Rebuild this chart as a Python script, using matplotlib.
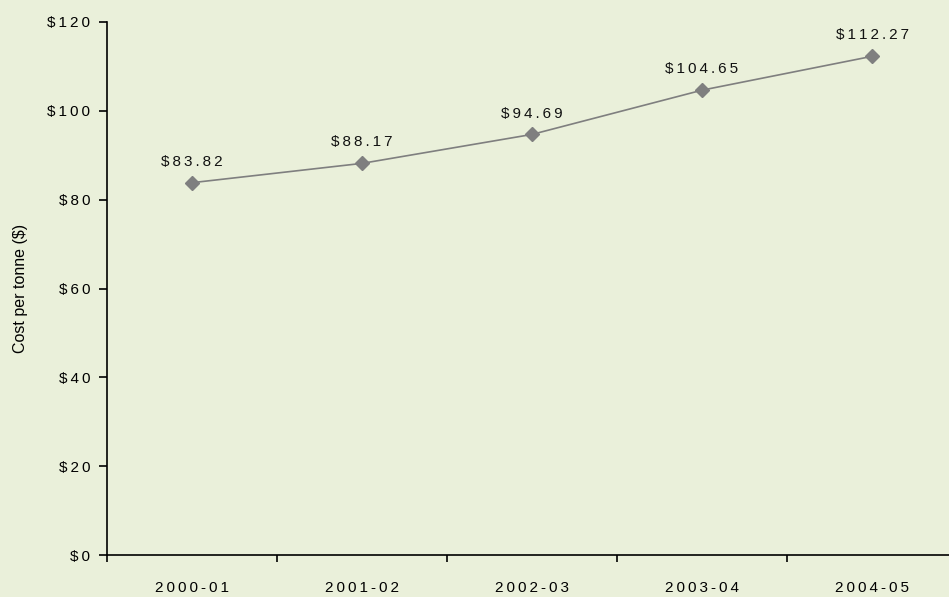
import numpy as np
import matplotlib
matplotlib.use('Agg')
from matplotlib import pyplot as plt

years = ['2000-01', '2001-02', '2002-03', '2003-04', '2004-05']
cost = [83.82, 88.17, 94.69, 104.65, 112.27]
yticks = [0, 20, 40, 60, 80, 100, 120]

bg = '#eaf0da'
grey = '#7f7f7f'
SP = '\u2009'

def spaced(s):
	# wide letter spacing like the original
	return SP.join(s)

plt.rcParams['font.family'] = ['Liberation Sans', 'DejaVu Sans']

fig = plt.figure(figsize=(9.49, 5.97), dpi=100, facecolor=bg)
ax = fig.add_axes([107/949, 42/597, 850/949, 533/597], facecolor=bg)

x = np.arange(len(years))
ax.plot(x, cost, color=grey, lw=1.2, marker='D', ms=7, mfc=grey, mec=grey)
for xi, v in zip(x, cost):
	ax.annotate(spaced('$%.2f' % v), (xi, v), xytext=(0, 10), textcoords='offset points',
		ha='center', va='bottom', fontsize=11, color='#111111')

ax.set_xlim(-0.5, len(years) - 0.5)
ax.set_ylim(0, 120)
ax.set_yticks(yticks)
ax.set_yticklabels([spaced('$%d' % t) for t in yticks], fontsize=11)
ax.set_xticks(x)
ax.set_xticklabels([spaced(y) for y in years], fontsize=11)
ax.set_xticks(np.arange(len(years)) - 0.5, minor=True)
ax.tick_params(axis='x', which='major', length=0, pad=19)
ax.tick_params(axis='x', which='minor', length=5, width=1.2, direction='out')
ax.tick_params(axis='y', length=6, width=1.2, direction='out', pad=6)

for s in ['top', 'right']:
	ax.spines[s].set_visible(False)
for s in ['left', 'bottom']:
	ax.spines[s].set_linewidth(1.2)

ax.set_ylabel('Cost per tonne ($)', fontsize=11.5, labelpad=14)

fig.savefig('out.png', dpi=100, facecolor=bg)
